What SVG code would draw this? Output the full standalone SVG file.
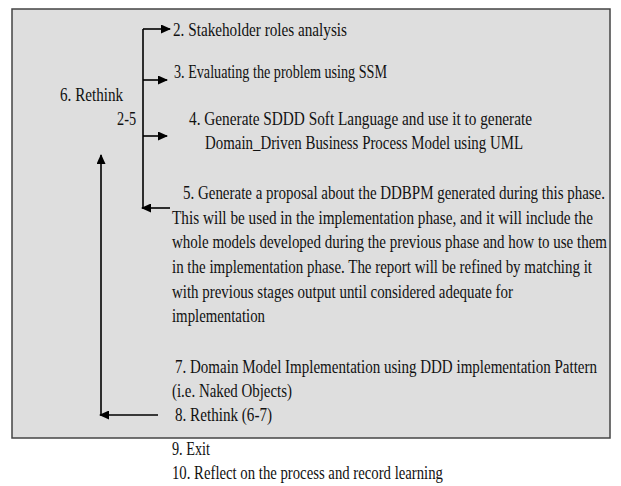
<svg xmlns="http://www.w3.org/2000/svg" width="621" height="486" viewBox="0 0 621 486">
<style>
text{font-family:"Liberation Serif","Times New Roman","DejaVu Serif",serif;font-size:18px;fill:#111}
.ln{stroke:#000;stroke-width:1.6;fill:none}
</style>
<defs>
<marker id="ah" markerWidth="10" markerHeight="9" refX="9" refY="4.5" orient="auto" markerUnits="userSpaceOnUse">
<path d="M0,0 L10,4.5 L0,9 Z" fill="#000"/>
</marker>
</defs>
<rect width="621" height="486" fill="#fff"/>
<g id="frame">
<rect x="12" y="9" width="598" height="429" fill="#dedede" stroke="#444" stroke-width="1.5"/>
</g>
<g id="connectors">
<path class="ln" d="M143,29 V208"/>
<path class="ln" d="M143,29 H170" marker-end="url(#ah)"/>
<path class="ln" d="M143,80 H167" marker-end="url(#ah)"/>
<path class="ln" d="M143,136 H167" marker-end="url(#ah)"/>
<path class="ln" d="M170,208 H142" marker-end="url(#ah)"/>
<path class="ln" d="M101,415 V155" marker-end="url(#ah)"/>
<path class="ln" d="M158,415 H100" marker-end="url(#ah)"/>
</g>
<g id="n6"><text transform="matrix(.78,0,0,1,60,0)" x="0" y="101" textLength="80.8" lengthAdjust="spacingAndGlyphs">6. Rethink</text>
<text transform="matrix(.78,0,0,1,117,0)" x="0" y="125" textLength="24.4" lengthAdjust="spacingAndGlyphs">2-5</text></g>
<g id="n2"><text transform="matrix(.78,0,0,1,173,0)" x="0" y="36" textLength="223.1" lengthAdjust="spacingAndGlyphs">2.  Stakeholder roles analysis</text></g>
<g id="n3"><text transform="matrix(.78,0,0,1,174,0)" x="0" y="78" textLength="273.1" lengthAdjust="spacingAndGlyphs">3.  Evaluating the problem using SSM</text></g>
<g id="n4"><text transform="matrix(.78,0,0,1,189,0)" x="0" y="125" textLength="439.7" lengthAdjust="spacingAndGlyphs">4.   Generate SDDD Soft Language and use it to generate</text>
<text transform="matrix(.78,0,0,1,205,0)" x="0" y="149" textLength="407.7" lengthAdjust="spacingAndGlyphs">Domain_Driven Business Process Model using UML</text></g>
<g id="n5"><text transform="matrix(.78,0,0,1,183,0)" x="0" y="199" textLength="541" lengthAdjust="spacingAndGlyphs">5. Generate a proposal about the DDBPM generated during this phase.</text>
<text transform="matrix(.78,0,0,1,172,0)" x="0" y="224" textLength="539.7" lengthAdjust="spacingAndGlyphs">This will be used in the implementation phase, and it will include the</text>
<text transform="matrix(.78,0,0,1,172,0)" x="0" y="248" textLength="557.7" lengthAdjust="spacingAndGlyphs">whole models developed during the previous phase and how to use them</text>
<text transform="matrix(.78,0,0,1,172,0)" x="0" y="273" textLength="538.5" lengthAdjust="spacingAndGlyphs">in the implementation phase. The report will be refined by matching it</text>
<text transform="matrix(.78,0,0,1,172,0)" x="0" y="298" textLength="437.2" lengthAdjust="spacingAndGlyphs">with previous stages output until considered adequate for</text>
<text transform="matrix(.78,0,0,1,172,0)" x="0" y="322" textLength="119.2" lengthAdjust="spacingAndGlyphs">implementation</text></g>
<g id="n7"><text transform="matrix(.78,0,0,1,175,0)" x="0" y="373" textLength="541" lengthAdjust="spacingAndGlyphs">7. Domain Model Implementation using DDD implementation Pattern</text>
<text transform="matrix(.78,0,0,1,172,0)" x="0" y="397" textLength="153.8" lengthAdjust="spacingAndGlyphs">(i.e. Naked Objects)</text></g>
<g id="n8"><text transform="matrix(.78,0,0,1,175,0)" x="0" y="421" textLength="124.4" lengthAdjust="spacingAndGlyphs">8. Rethink (6-7)</text></g>
<g id="n9"><text transform="matrix(.78,0,0,1,172,0)" x="0" y="455" textLength="48.7" lengthAdjust="spacingAndGlyphs">9. Exit</text></g>
<g id="n10"><text transform="matrix(.78,0,0,1,172,0)" x="0" y="479" textLength="347.4" lengthAdjust="spacingAndGlyphs">10. Reflect on the process and record learning</text></g>
</svg>
